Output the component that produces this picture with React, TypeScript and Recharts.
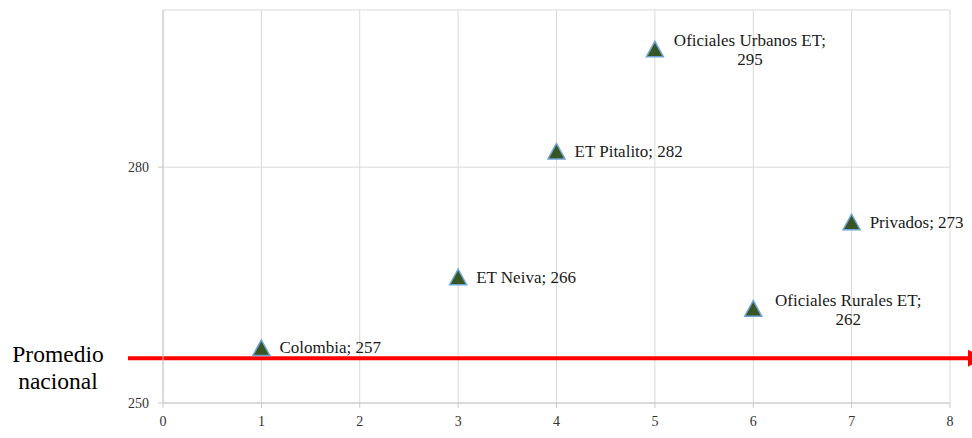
import {
  CartesianGrid,
  ReferenceLine,
  Scatter,
  ScatterChart,
  XAxis,
  YAxis,
} from "recharts";

const groups = [
  "Colombia",
  "ET Neiva",
  "ET Pitalito",
  "Oficiales Urbanos ET",
  "Oficiales Rurales ET",
  "Privados",
];
const positions = [1, 3, 4, 5, 6, 7];
const scores = [257, 266, 282, 295, 262, 273];
const xTicks = [0, 1, 2, 3, 4, 5, 6, 7, 8];
const yTicks = [250, 280];
const nationalAverage = 255.7;

const FONT = "Liberation Serif, serif";

const data = groups.map((name, i) => ({ name, x: positions[i], y: scores[i] }));

function TriangleWithLabel(props: any) {
  const { cx, cy, payload } = props;
  const text = `${payload.name}; ${payload.y}`;
  const tri = `${cx},${cy - 8} ${cx - 8.5},${cy + 7.5} ${cx + 8.5},${cy + 7.5}`;
  // long labels wrap onto two centred lines, like the original
  const wrap = text.length > 18;
  return (
    <g>
      <polygon points={tri} fill="#375623" stroke="#6fa3d6" strokeWidth={1.5} />
      {wrap ? (
        <text
          style={{ fontFamily: FONT, fontSize: 17 }}
          fill="#1a1a1a"
          textAnchor="middle"
          dominantBaseline="central"
        >
          <tspan x={cx + 95} y={cy - 9}>
            {payload.name};
          </tspan>
          <tspan x={cx + 95} y={cy + 10}>
            {payload.y}
          </tspan>
        </text>
      ) : (
        <text
          x={cx + 18}
          y={cy}
          style={{ fontFamily: FONT, fontSize: 17 }}
          fill="#1a1a1a"
          dominantBaseline="central"
        >
          {text}
        </text>
      )}
    </g>
  );
}

function AverageArrow(props: any) {
  const { x1, x2, y1 } = props;
  const start = x1 - 35;
  const end = x2 + 18;
  return (
    <g>
      <line x1={start} y1={y1} x2={end} y2={y1} stroke="#ff0000" strokeWidth={4} />
      <polygon
        points={`${end},${y1 - 8.5} ${end + 16},${y1} ${end},${y1 + 8.5}`}
        fill="#ff0000"
      />
      <text
        style={{ fontFamily: FONT, fontSize: 23.5 }}
        fill="#000"
        textAnchor="middle"
      >
        <tspan x={start - 70} y={y1 + 4}>
          Promedio
        </tspan>
        <tspan x={start - 70} y={y1 + 31}>
          nacional
        </tspan>
      </text>
    </g>
  );
}

export default function App() {
  return (
    <div
      style={{
        position: "absolute",
        left: 0,
        top: 0,
        background: "#fff",
        fontFamily: FONT,
      }}
    >
      <ScatterChart
        width={972}
        height={438}
        margin={{ top: 10, right: 22, left: 0, bottom: 0 }}
        style={{ fontFamily: FONT }}
      >
        <CartesianGrid stroke="#d9d9d9" />
        <XAxis
          type="number"
          dataKey="x"
          domain={[0, 8]}
          ticks={xTicks}
          interval={0}
          height={35}
          stroke="#c8c8c8"
          tickSize={5}
          tickMargin={8}
          tick={{ fill: "#333", fontSize: 14, style: { fontFamily: FONT } }}
        />
        <YAxis
          type="number"
          dataKey="y"
          domain={[250, 300]}
          ticks={yTicks}
          interval={0}
          width={163}
          stroke="#c8c8c8"
          tickSize={5}
          tickMargin={9}
          tick={{ fill: "#333", fontSize: 14, style: { fontFamily: FONT } }}
        />
        <ReferenceLine y={nationalAverage} shape={AverageArrow} />
        <Scatter
          data={data}
          shape={TriangleWithLabel}
          isAnimationActive={false}
        />
      </ScatterChart>
    </div>
  );
}
